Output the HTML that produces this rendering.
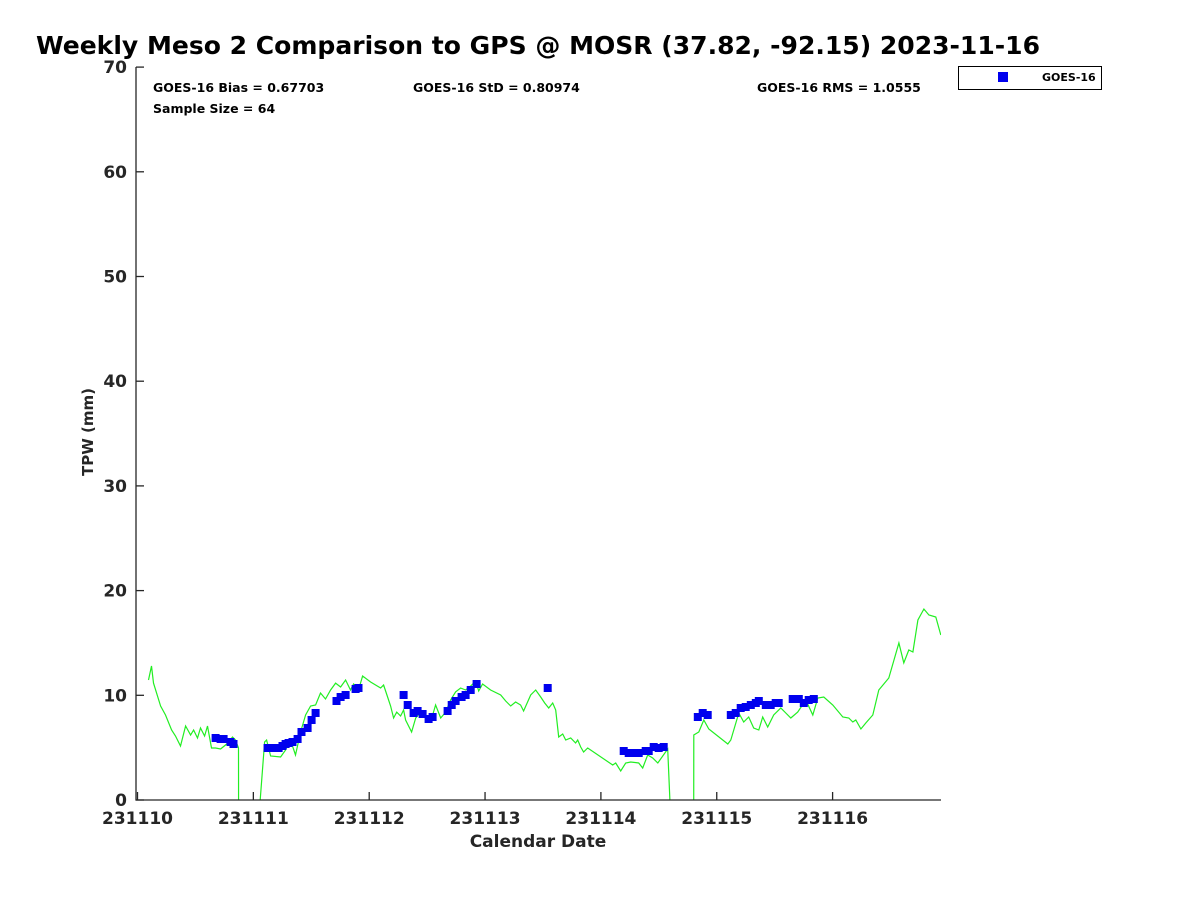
<!DOCTYPE html>
<html><head><meta charset="utf-8"><style>
html,body{margin:0;padding:0;background:#fff;}
svg{display:block;font-family:"DejaVu Sans","Liberation Sans",sans-serif;font-weight:bold;}
</style></head><body>
<svg id="chart" width="1200" height="900" viewBox="0 0 1200 900">
<text x="36" y="54" font-size="25" fill="#000" textLength="1004" lengthAdjust="spacingAndGlyphs">Weekly Meso 2 Comparison to GPS @ MOSR (37.82, -92.15) 2023-11-16</text>
<text x="153" y="92" font-size="12.5" fill="#000">GOES-16 Bias = 0.67703</text>
<text x="413" y="92" font-size="12.5" fill="#000">GOES-16 StD = 0.80974</text>
<text x="757" y="92" font-size="12.5" fill="#000">GOES-16 RMS = 1.0555</text>
<text x="153" y="113" font-size="12.5" fill="#000">Sample Size = 64</text>
<g>
<rect x="958.5" y="66.5" width="143" height="23" fill="#fff" stroke="#000" stroke-width="1"/>
<rect x="998" y="72" width="10" height="10" fill="#0000ee"/>
<text x="1042" y="81" font-size="11" fill="#000">GOES-16</text>
</g>
<g id="plot"></g>
<text x="538" y="847" font-size="17" fill="#262626" text-anchor="middle">Calendar Date</text>
<text transform="translate(93,432) rotate(-90)" font-size="15" fill="#262626" text-anchor="middle">TPW (mm)</text>
</svg>
<script>
const gpsDays=[0.095,0.121,0.138,0.199,0.242,0.294,0.328,0.371,0.415,0.458,0.484,0.518,0.544,0.579,0.604,0.639,0.674,0.717,0.760,0.786,0.820,0.846,0.872,0.873,1.045,1.097,1.114,1.149,1.235,1.278,1.321,1.364,1.408,1.451,1.494,1.537,1.580,1.623,1.667,1.710,1.753,1.796,1.839,1.865,1.908,1.943,2.012,2.098,2.124,2.159,2.185,2.211,2.237,2.271,2.297,2.314,2.366,2.401,2.444,2.487,2.530,2.573,2.617,2.660,2.703,2.746,2.789,2.832,2.876,2.919,2.945,2.979,3.048,3.135,3.178,3.221,3.264,3.307,3.333,3.394,3.437,3.480,3.515,3.549,3.584,3.610,3.636,3.670,3.696,3.739,3.782,3.800,3.826,3.851,3.886,4.102,4.128,4.171,4.214,4.257,4.326,4.361,4.404,4.447,4.491,4.577,4.603,4.801,4.802,4.845,4.888,4.931,5.095,5.121,5.190,5.233,5.276,5.319,5.363,5.397,5.440,5.492,5.553,5.596,5.639,5.699,5.769,5.829,5.872,5.924,6.002,6.088,6.140,6.174,6.200,6.244,6.287,6.347,6.399,6.485,6.572,6.615,6.658,6.693,6.736,6.788,6.831,6.891,6.934];
const gpsTpw=[11.46,12.80,11.17,8.98,8.12,6.69,6.11,5.16,7.07,6.21,6.69,5.92,6.88,6.11,7.07,4.97,4.97,4.87,5.25,5.54,6.02,5.73,4.97,-2,-2,5.54,5.73,4.20,4.11,4.78,5.73,4.30,6.49,8.12,8.98,9.07,10.22,9.65,10.51,11.17,10.79,11.46,10.51,11.08,10.51,11.84,11.27,10.70,10.98,9.84,8.98,7.83,8.40,8.02,8.60,7.64,6.49,7.83,8.40,8.02,7.45,9.07,7.83,8.40,9.55,10.32,10.70,10.51,10.89,11.37,10.41,11.08,10.51,10.03,9.46,8.98,9.36,9.07,8.50,10.03,10.51,9.84,9.26,8.79,9.26,8.60,6.02,6.30,5.73,5.92,5.44,5.73,5.06,4.58,4.97,3.34,3.53,2.77,3.53,3.63,3.53,3.06,4.30,4.01,3.53,4.87,-2,-2,6.21,6.49,7.64,6.78,5.35,5.73,8.31,7.45,7.93,6.88,6.69,7.93,6.97,8.12,8.79,8.31,7.83,8.40,9.55,8.12,9.74,9.84,9.07,7.93,7.83,7.45,7.64,6.78,7.35,8.12,10.51,11.65,15.00,13.09,14.33,14.14,17.19,18.24,17.67,17.48,15.76];
const goesDays=[0.674,0.717,0.743,0.803,0.829,1.123,1.149,1.192,1.218,1.252,1.278,1.304,1.338,1.382,1.416,1.468,1.503,1.537,1.718,1.753,1.796,1.883,1.908,2.297,2.332,2.383,2.418,2.461,2.513,2.547,2.677,2.712,2.746,2.798,2.832,2.876,2.927,3.541,4.197,4.240,4.283,4.326,4.387,4.413,4.456,4.499,4.542,4.836,4.879,4.922,5.121,5.164,5.207,5.250,5.294,5.337,5.363,5.423,5.466,5.509,5.535,5.656,5.708,5.751,5.794,5.838];
const goesTpw=[5.92,5.83,5.83,5.54,5.35,4.97,4.97,4.97,4.97,5.16,5.35,5.44,5.54,5.83,6.49,6.88,7.64,8.31,9.46,9.84,10.03,10.60,10.70,10.03,9.07,8.31,8.50,8.21,7.74,7.93,8.50,9.07,9.46,9.84,10.03,10.51,11.08,10.70,4.68,4.49,4.49,4.49,4.68,4.68,5.06,4.97,5.06,7.93,8.31,8.12,8.12,8.31,8.79,8.88,9.07,9.26,9.46,9.07,9.07,9.26,9.26,9.65,9.65,9.26,9.55,9.65];
const yTicks=[0,10,20,30,40,50,60,70];
const xTickLabels=["231110","231111","231112","231113","231114","231115","231116"];

const NS="http://www.w3.org/2000/svg";
const X0=137.5,DAY=115.85,Y0=800,YS=10.47,XMAX=941;
const xs=d=>X0+d*DAY, ys=v=>Y0-v*YS;
const plot=document.getElementById('plot');
function mk(tag,attrs,parent){const e=document.createElementNS(NS,tag);for(const k in attrs)e.setAttribute(k,attrs[k]);(parent||plot).appendChild(e);return e;}

const defs=mk('defs',{});
const cp=mk('clipPath',{id:'clip'},defs);
mk('rect',{x:136,y:60,width:XMAX-136,height:Y0-60},cp);

// green GPS line
let d='';
gpsDays.forEach((t,i)=>{d+=(i?'L':'M')+xs(t).toFixed(1)+','+ys(gpsTpw[i]).toFixed(1);});
const line=mk('path',{d:d,fill:'none',stroke:'#22ee22','stroke-width':1.2,'clip-path':'url(#clip)'});



// GOES markers
goesDays.forEach((t,i)=>{
  const r=mk('rect',{x:(xs(t)-4).toFixed(1),y:(ys(goesTpw[i])-4).toFixed(1),width:8,height:8,fill:'#0000ee'});
  
  
});

// axes
const ax=mk('path',{d:`M136,${Y0-733} L136,${Y0} L${XMAX},${Y0}`,fill:'none',stroke:'#262626','stroke-width':1.3});



yTicks.forEach(v=>{
  const y=ys(v);
  const tk=mk('line',{x1:136,x2:144,y1:y,y2:y,stroke:'#262626','stroke-width':1.3});
  
  
  const tx=mk('text',{x:127,y:y+6,'font-size':17,fill:'#262626','text-anchor':'end'});
  tx.textContent=v;
  
  
});
xTickLabels.forEach((lab,i)=>{
  const x=xs(i);
  const tk=mk('line',{x1:x,x2:x,y1:Y0,y2:Y0-8,stroke:'#262626','stroke-width':1.3});
  
  
  const tx=mk('text',{x:x,y:824,'font-size':17,fill:'#262626','text-anchor':'middle'});
  tx.textContent=lab;
  
  
});
</script>
</body></html>
